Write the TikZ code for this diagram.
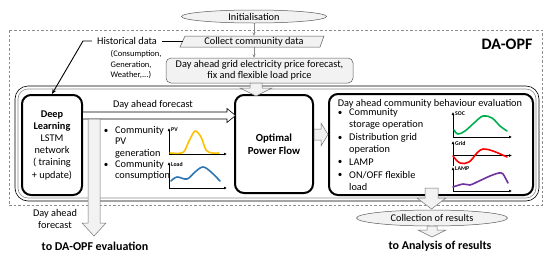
\documentclass[tikz,border=0pt]{standalone}
\usepackage{fontspec}
\setmainfont{Carlito}
\usetikzlibrary{shapes.geometric,arrows.meta}
\definecolor{pvyellow}{RGB}{255,192,0}
\definecolor{loadblue}{RGB}{46,117,182}
\definecolor{socgreen}{RGB}{0,176,80}
\definecolor{gridred}{RGB}{255,0,0}
\definecolor{lamppurple}{RGB}{112,48,160}
\definecolor{lightfill}{RGB}{242,242,242}
\begin{document}
\begin{tikzpicture}[x=1pt,y=-1pt,
  f10/.style={font=\fontsize{10.3}{12}\selectfont},
  thickbox/.style={draw=black,line width=2pt,rounded corners=9pt,inner sep=0pt},
  grayfill/.style={draw=black!65,fill=lightfill,line width=0.5pt},
  thinarr/.style={draw=black!45,line width=0.6pt,-{Stealth[length=3.5pt,width=3pt]}},
  blockarr/.style={draw=black!55,fill=lightfill,line width=0.5pt},
  axis/.style={line width=0.8pt,-{Latex[length=3pt,width=3pt]}},
  crv/.style={line width=1.6pt,line cap=round,line join=round},
  clbl/.style={font=\fontsize{5.8}{5.8}\selectfont\bfseries,anchor=west,inner sep=0pt},
  bul/.style={font=\fontsize{9}{9}\selectfont,inner sep=0pt},
  ltext/.style={font=\fontsize{10.3}{11.5}\selectfont,inner sep=0pt,anchor=west,align=left},
]
\useasboundingbox (0,0) rectangle (550,255);

% DA-OPF dashed frame
\draw[black!45,line width=0.5pt,dash pattern=on 2.5pt off 2pt] (9,30) rectangle (542,205);
\node[font=\fontsize{16}{16}\selectfont\bfseries,inner sep=0pt] (daopf) at (507,44) {DA-OPF};

% outer double box
\draw[line width=0.6pt,rounded corners=13pt] (15,86) rectangle (539,201);
\draw[black!45,line width=0.6pt,rounded corners=10pt] (18,89) rectangle (536,198);

% top flow
\node[ellipse,grayfill,minimum width=145pt,minimum height=13pt,inner sep=0pt,f10] (init) at (254,16.5) {Initialisation};
\draw[grayfill] (180,47) -- (185,36) -- (324,36) -- (320,47) -- cycle;
\node[f10,inner sep=0pt,minimum width=130pt,minimum height=11pt] (collect) at (254,41.5) {Collect community data};
\node[grayfill,rounded corners=5pt,minimum width=187pt,minimum height=25pt,align=center,
      font=\fontsize{10.3}{11.5}\selectfont,inner sep=0pt] (price) at (259.5,70.5)
      {Day ahead grid electricity price forecast,\\fix and flexible load price};
\draw[thinarr] (init.south) -- (collect.north);
\draw[thinarr] (collect.south) -- (collect.south |- price.north);

% historical data
\node[f10,inner sep=5pt] (hist) at (127,41) {Historical data};
\node[font=\fontsize{8.5}{10.5}\selectfont,align=left,anchor=west,inner sep=0pt] (histnote) at (110.5,64.5) {(Consumption,\\Generation,\\Weather,...)};
\coordinate (cl) at (182.5,41);
\coordinate (hk) at (83,41);

% main boxes
\node[thickbox,minimum width=60pt,minimum height=100pt,align=center,font=\fontsize{10.3}{12.2}\selectfont] (dl) at (52,145)
  {\textbf{Deep}\\\textbf{Learning}\\LSTM\\network\\( training\\+ update)};
\node[thickbox,minimum width=78pt,minimum height=98pt,align=center,font=\fontsize{10.8}{13}\selectfont\bfseries] (opf) at (274,144) {Optimal\\Power Flow};
\node[thickbox,minimum width=204pt,minimum height=101pt] (eval) at (431,144.5) {};

\draw[line width=0.9pt] (cl) -- (hist.east);
\draw[line width=0.9pt,-{Stealth[length=5pt,width=4pt]}] (hist.west) -- (hk) -- (dl.north);

% forecast arrow (white)
\draw[line width=0.6pt,fill=white] (83,112) -- (227,112) -- (227,108.5) -- (235.5,115.5) -- (227,122.5) -- (227,119) -- (83,119);
\node[f10,inner sep=0pt] (fclbl) at (153,105) {Day ahead forecast};

% vertical gray arrow
\draw[blockarr] (88,119) -- (100,119) -- (100,223) -- (106,223) -- (94,236) -- (82,223) -- (88,223) -- cycle;
\node[f10,align=center,inner sep=0pt] (fc2) at (55,219) {Day ahead\\forecast};

% block arrows
\draw[blockarr] (250,83) -- (262,83) -- (262,88) -- (272,88) -- (256,96) -- (240,88) -- (250,88) -- cycle;
\draw[blockarr] (314,129) -- (321,129) -- (321,123) -- (328,134.5) -- (321,146) -- (321,140) -- (314,140) -- cycle;
\draw[blockarr] (425,188) -- (438,188) -- (438,198) -- (446,198) -- (431.5,209) -- (417,198) -- (425,198) -- cycle;

\node[ellipse,grayfill,minimum width=151pt,minimum height=16pt,inner sep=0pt,f10] (coll) at (432,218) {Collection of results};
\draw[blockarr] (427,226) -- (437,226) -- (437,230) -- (446,230) -- (432,237) -- (418,230) -- (427,230) -- cycle;

\node[font=\fontsize{12}{12}\selectfont\bfseries,inner sep=0pt] (toana) at (440,246) {to Analysis of results};
\node[font=\fontsize{12}{12}\selectfont\bfseries,inner sep=0pt] (todaopf) at (95,246) {to DA-OPF evaluation};

% community forecast bullets
\node[bul] (b1) at (106,131) {\textbullet};
\node[ltext] (t1) at (115,142) {Community\\PV\\generation};
\node[bul] (b2) at (106,165) {\textbullet};
\node[ltext] (t2) at (115,170.5) {Community\\consumption};

% PV chart
\draw[axis] (169,154) -- (169,128);
\draw[axis] (169,154) -- (227,154);
\node[clbl] (pvl) at (171,130) {PV};
\draw[crv,pvyellow] plot[smooth,tension=0.5] coordinates {(170,153) (183,152.5) (189,141) (195,131) (201,137) (206,150) (212,153) (219,153)};
% Load chart
\draw[axis] (169,188) -- (169,162);
\draw[axis] (169,188) -- (227,188);
\node[clbl] (ldl) at (171,164) {Load};
\draw[crv,loadblue] plot[smooth,tension=0.6] coordinates {(171,181) (177,177) (187,179) (195,172) (203,167) (211,172) (220,181)};

% evaluation content
\node[f10,inner sep=0pt] (evtitle) at (430,103.5) {Day ahead community behaviour evaluation};
\node[bul] (e1) at (340,113.5) {\textbullet};
\node[ltext,font=\fontsize{10.3}{12}\selectfont] (et1) at (349,119) {Community\\storage operation};
\node[bul] (e2) at (340,138.5) {\textbullet};
\node[ltext,font=\fontsize{10.3}{12}\selectfont] (et2) at (349,144) {Distribution grid\\operation};
\node[bul] (e3) at (340,162.5) {\textbullet};
\node[ltext] (et3) at (349,162) {LAMP};
\node[bul] (e4) at (340,175.5) {\textbullet};
\node[ltext,font=\fontsize{10.3}{12}\selectfont] (et4) at (349,181) {ON/OFF flexible\\load};

% SOC chart
\draw[axis] (453,137) -- (453,112);
\draw[axis] (453,137) -- (512,137);
\node[clbl] (socl) at (455,114) {SOC};
\draw[crv,socgreen] plot[smooth,tension=0.6] coordinates {(454,130) (458,134) (465,131) (474,123) (483,116) (492,118) (500,126) (507,131)};
% Grid chart
\draw[line width=0.8pt] (453,166) -- (453,155.5);
\draw[axis] (453,155.5) -- (453,141);
\draw[axis] (453,155.5) -- (512,155.5);
\node[clbl] (gridl) at (455,143) {Grid};
\draw[crv,gridred] plot[smooth,tension=0.6] coordinates {(453,156) (460,163) (469,162) (477,153) (483,149) (493,151) (507,157)};
% LAMP chart
\draw[axis] (453,191) -- (453,167);
\draw[axis] (453,191) -- (512,191);
\node[clbl] (lampl) at (455,169) {LAMP};
\draw[crv,lamppurple] plot[smooth,tension=0.5] coordinates {(453,187) (463,184) (470,185) (477,182) (490,176) (499,173) (503,174) (508,183)};
\end{tikzpicture}
\end{document}
